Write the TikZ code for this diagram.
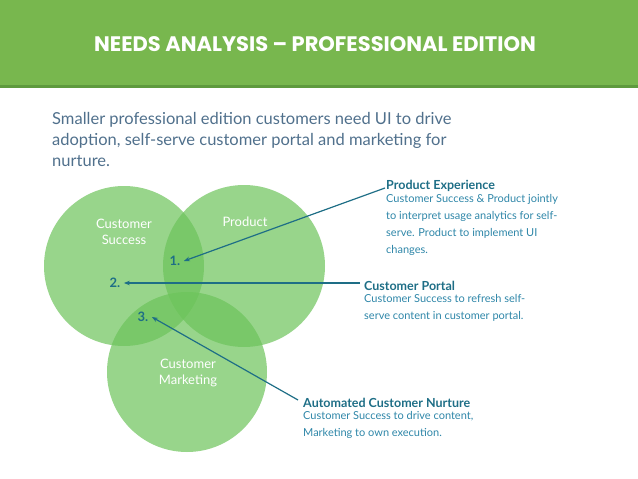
\documentclass[tikz,border=0pt]{standalone}
\usepackage{fontspec}
\usetikzlibrary{arrows.meta}
\setmainfont{Lato}
\newfontfamily\titlefont{Poppins}
\begin{document}
\begin{tikzpicture}[x=1pt,y=-1pt,
  arr/.style={draw=arrowc, line width=1.2pt, -{Stealth[length=6pt]}},
  numl/.style={text=arrowc, font=\fontsize{13}{13}\selectfont\bfseries},
  cl/.style={text=white, font=\fontsize{13}{16}\selectfont, align=center},
  head/.style={text=arrowc, font=\fontsize{12.5}{15}\selectfont\bfseries, anchor=west, inner sep=0},
  body/.style={text=bodyc, font=\fontsize{11}{17}\selectfont, align=left, anchor=north west, inner sep=0}]
\definecolor{hdr}{HTML}{78B74E}
\definecolor{hdrd}{HTML}{5E9A3E}
\definecolor{arrowc}{HTML}{1E6E86}
\definecolor{bodyc}{HTML}{2E86A8}
\definecolor{subc}{HTML}{50708C}
\definecolor{cfill}{HTML}{6CC35A}
\useasboundingbox (0,0) rectangle (638,479);
\fill[hdr] (0,0) rectangle (638,85);
\fill[hdrd] (0,85) rectangle (638,88);
\node[text=white, font=\titlefont\fontsize{21}{21}\selectfont\bfseries] (title) at (315,44) {NEEDS ANALYSIS – PROFESSIONAL EDITION};
\node[text=subc, font=\fontsize{16.5}{21}\selectfont, align=left, anchor=north west, inner sep=0] (sub) at (52,112)
  {Smaller professional edition customers need UI to drive\\adoption, self-serve customer portal and marketing for\\nurture.};
\fill[cfill, fill opacity=0.7] (124,266) circle (80);
\fill[cfill, fill opacity=0.7] (244,266) circle (81);
\fill[cfill, fill opacity=0.7] (187,372) circle (80);
\node[cl] (cs) at (124,232) {Customer\\Success};
\node[cl] (pr) at (245,222) {Product};
\node[cl] (cm) at (188,373) {Customer\\Marketing};
\node[numl] (n1) at (175,261) {1.};
\node[numl] (n2) at (115,283) {2.};
\node[numl] (n3) at (143,317) {3.};
\node[head] (h1) at (386,186) {Product Experience};
\node[body] (b1) at (386,194) {Customer Success \& Product jointly\\to interpret usage analytics for self-\\serve. Product to implement UI\\changes.};
\node[head] (h2) at (364,286) {Customer Portal};
\node[body] (b2) at (364,294) {Customer Success to refresh self-\\serve content in customer portal.};
\node[head] (h3) at (303,403) {Automated Customer Nurture};
\node[body] (b3) at (303,411) {Customer Success to drive content,\\Marketing to own execution.};
\coordinate (a1) at (385,188);
\coordinate (a2) at (360,283);
\coordinate (a3) at (298,400);
\draw[arr] (a1) -- (n1.east);
\draw[arr] (a2) -- (n2.east);
\draw[arr] (a3) -- (n3.east);
\end{tikzpicture}
\end{document}
